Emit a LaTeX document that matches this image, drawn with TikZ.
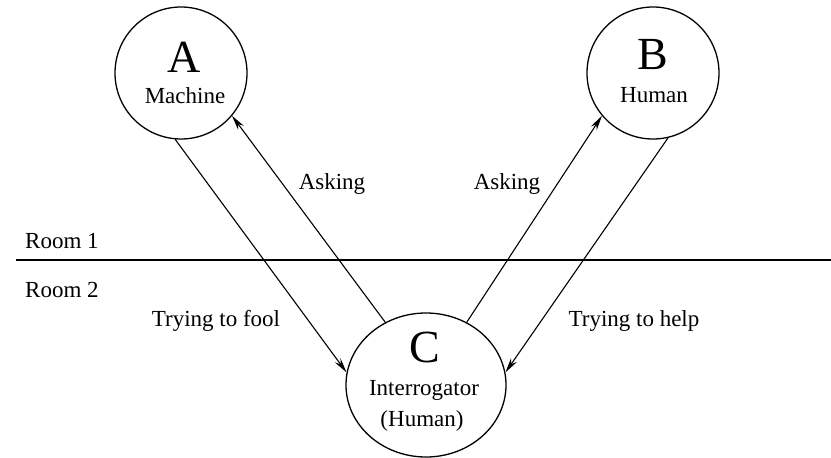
\documentclass[tikz,border=0pt]{standalone}
\usepackage{fontspec}
\setmainfont{Liberation Serif}
\usetikzlibrary{shapes.geometric,arrows.meta}
\begin{document}
\begin{tikzpicture}[x=1pt,y=-1pt,
  party/.style={circle,draw,line width=1.3pt,minimum size=132pt,inner sep=0pt},
  judge/.style={ellipse,draw,line width=1.3pt,minimum width=160pt,minimum height=144pt,inner sep=0pt},
  letter/.style={font=\fontsize{46}{46}\selectfont,inner sep=0pt},
  lbl/.style={font=\fontsize{23}{23}\selectfont,inner sep=0pt},
  msg/.style={line width=1.1pt,-{Stealth[length=15pt,width=7pt]}},
  wall/.style={line width=1.6pt}]
\useasboundingbox (0,0) rectangle (831,458);
\fill[white] (0,0) rectangle (831,458);

% the two rooms
\coordinate (w1) at (16,260);
\coordinate (w2) at (831,260);
\draw[wall] (w1) -- (w2);
\node[lbl,anchor=west] (room1) at (25,241) {Room 1};
\node[lbl,anchor=west] (room2) at (25,290) {Room 2};

% participants
\node[party] (A) at (181,73) {};
\node[party] (B) at (653,73) {};
\node[judge] (C) at (426,385) {};

\node[letter] (la) at (184,57) {A};
\node[lbl] (ma) at (185,96) {Machine};
\node[letter] (lb) at (653,55) {B};
\node[lbl] (hb) at (654,95) {Human};
\node[letter] (lc) at (425,347) {C};
\node[lbl] (ic) at (424,390) {Interrogator};
\node[lbl] (hc) at (422,421) {(Human)};

% communication
\draw[msg] (A.-95) -- (C.171);
\draw[msg] (C.123) -- (A.-40);
\draw[msg] (C.57) -- (B.220);
\draw[msg] (B.-77) -- (C.9);

\node[lbl] (q1) at (332,184) {Asking};
\node[lbl] (q2) at (507,184) {Asking};
\node[lbl] (f1) at (216,321) {Trying to fool};
\node[lbl] (h1) at (634,321) {Trying to help};
\end{tikzpicture}
\end{document}
